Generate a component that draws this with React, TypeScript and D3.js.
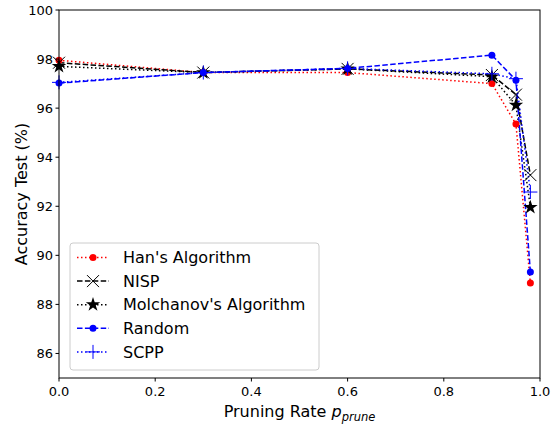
import React from 'react';
import * as d3 from 'd3';

const rates = [0, 0.3, 0.6, 0.9, 0.95, 0.98];
const hanAcc = [97.95, 97.45, 97.45, 97.0, 95.35, 88.87];
const nispAcc = [97.85, 97.45, 97.6, 97.35, 96.55, 93.27];
const molchanovAcc = [97.7, 97.45, 97.6, 97.28, 96.12, 91.96];
const randomAcc = [97.02, 97.45, 97.62, 98.16, 97.14, 89.32];
const scppAcc = [97.05, 97.45, 97.62, 97.4, 97.2, 92.58];
const xTicks = [0, 0.2, 0.4, 0.6, 0.8, 1.0];
const yTicks = [86, 88, 90, 92, 94, 96, 98, 100];

const W = 556, H = 428;
const margin = { left: 59, right: 16, top: 10, bottom: 50 };
const FONT = 'DejaVu Sans, sans-serif';

type Marker = 'circle' | 'x' | 'star' | 'plus';
const series: { name: string; values: number[]; color: string; dash: string; marker: Marker }[] = [
  { name: "Han's Algorithm", values: hanAcc, color: '#ff0000', dash: '1.5,2.5', marker: 'circle' },
  { name: 'NISP', values: nispAcc, color: '#000000', dash: '5.5,2.4', marker: 'x' },
  { name: "Molchanov's Algorithm", values: molchanovAcc, color: '#000000', dash: '1.5,2.5', marker: 'star' },
  { name: 'Random', values: randomAcc, color: '#0000ff', dash: '5.5,2.4', marker: 'circle' },
  { name: 'SCPP', values: scppAcc, color: '#0000ff', dash: '1.5,2.5', marker: 'plus' },
];

function MarkerShape({ kind, color }: { kind: Marker; color: string }) {
  if (kind === 'circle') return <circle r={3.5} fill={color} />;
  if (kind === 'x')
    return <path d="M-6,-6L6,6M-6,6L6,-6" stroke={color} strokeWidth={1} fill="none" />;
  if (kind === 'plus')
    return <path d="M-7,0L7,0M0,-7L0,7" stroke={color} strokeWidth={1} fill="none" />;
  const star = d3.symbol(d3.symbolStar, 65)() as string;
  return <path d={star} fill={color} />;
}

export default function App() {
  const x = d3.scaleLinear().domain([0, 1]).range([margin.left, W - margin.right]);
  const y = d3.scaleLinear().domain([85, 100]).range([H - margin.bottom, margin.top]);
  const line = d3.line<number>().x((_, i) => x(rates[i])).y(d => y(d));
  const x0 = margin.left, x1 = W - margin.right, y0 = H - margin.bottom, y1 = margin.top;

  return (
    <svg width={W} height={H} style={{ position: 'absolute', left: 0, top: 0 }} fontFamily={FONT}>
      <rect width={W} height={H} fill="#fff" />
      <defs>
        <clipPath id="plot">
          <rect x={x0} y={y1} width={x1 - x0} height={y0 - y1} />
        </clipPath>
      </defs>
      <g clipPath="url(#plot)">
        {series.map(s => (
          <path key={s.name} d={line(s.values) as string} fill="none" stroke={s.color} strokeWidth={1.5} strokeDasharray={s.dash} />
        ))}
      </g>
      {series.map(s => (
        <g key={s.name + 'm'}>
          {s.values.map((v, i) => (
            <g key={i} transform={`translate(${x(rates[i])},${y(v)})`}>
              <MarkerShape kind={s.marker} color={s.color} />
            </g>
          ))}
        </g>
      ))}
      <rect x={x0} y={y1} width={x1 - x0} height={y0 - y1} fill="none" stroke="#000" strokeWidth={1} />
      {xTicks.map(t => (
        <g key={t} transform={`translate(${x(t)},${y0})`}>
          <line y2={3.5} stroke="#000" />
          <text y={18} textAnchor="middle" fontSize={13} fill="#000">{t.toFixed(1)}</text>
        </g>
      ))}
      {yTicks.map(t => (
        <g key={t} transform={`translate(${x0},${y(t)})`}>
          <line x2={-3.5} stroke="#000" />
          <text x={-6} dy="0.35em" textAnchor="end" fontSize={13} fill="#000">{t}</text>
        </g>
      ))}
      <text x={(x0 + x1) / 2} y={417} textAnchor="middle" fontSize={16} fill="#000">
        Pruning Rate <tspan fontStyle="italic">p</tspan>
        <tspan fontStyle="italic" fontSize={11.5} dy={4}>prune</tspan>
      </text>
      <text transform={`translate(27,${(y0 + y1) / 2}) rotate(-90)`} textAnchor="middle" fontSize={16} fill="#000">
        Accuracy Test (%)
      </text>
      <g transform="translate(70,243)">
        <rect width={249} height={127} rx={3} fill="#fff" fillOpacity={0.8} stroke="#ccc" strokeWidth={1} />
        {series.map((s, i) => (
          <g key={s.name} transform={`translate(0,${14.5 + i * 23.6})`}>
            <line x1={7} x2={39} stroke={s.color} strokeWidth={1.5} strokeDasharray={s.dash} />
            <g transform="translate(23,0)">
              <MarkerShape kind={s.marker} color={s.color} />
            </g>
            <text x={53} dy="0.35em" fontSize={16} fill="#000">{s.name}</text>
          </g>
        ))}
      </g>
    </svg>
  );
}
